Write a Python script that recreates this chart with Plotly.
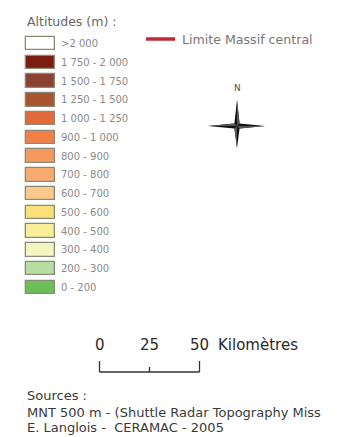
import plotly.graph_objects as go

title = "Altitudes (m) :"
classes = [">2 000", "1 750 - 2 000", "1 500 - 1 750", "1 250 - 1 500", "1 000 - 1 250",
           "900 - 1 000", "800 - 900", "700 - 800", "600 - 700", "500 - 600",
           "400 - 500", "300 - 400", "200 - 300", "0 - 200"]
colors = ["#ffffff", "#7a1e10", "#8c4232", "#a9552f", "#e2693a", "#f27e48", "#f59a5e",
          "#f8aa73", "#fbc98c", "#fbdf78", "#f8ef98", "#f4f6c2", "#b8dca2", "#6cbf58"]
line_label = "Limite Massif central"
scale_ticks = [0, 25, 50]
scale_unit = "Kilomètres"
sources = ["Sources :", "MNT 500 m - (Shuttle Radar Topography Miss", "E. Langlois -  CERAMAC - 2005"]

# page body has an 8 px margin: figure sized to fit the window, axes in window pixels
OFF = 8
W, H = 340 - OFF, 437 - OFF
FONT = "DejaVu Sans, sans-serif"

y0, step = 43.5, 18.77
ys = [y0 + i * step for i in range(len(classes))]

fig = go.Figure()
fig.add_trace(go.Bar(
    y=ys, x=[29] * len(classes), base=[26] * len(classes), orientation="h",
    width=13.5, marker=dict(color=colors, line=dict(color="#8a8a7a", width=1.3)),
    showlegend=False, hoverinfo="skip"))


def text(x, y, s, size, color, anchor="left"):
    return dict(x=x, y=y, text=s, xanchor=anchor, yanchor="middle", showarrow=False,
                font=dict(size=size, color=color, family=FONT))


ann = [text(25, 21, title, 12.5, "#666666")]
for y, lab in zip(ys, classes):
    ann.append(text(59, y, lab, 10, "#8a8a8a"))
ann.append(text(180, 39, line_label, 12.6, "#777777"))
ann.append(text(237, 88, "N", 9, "#555555", "center"))

# scale bar
sx0, kpx = 99.5, 2.0
sx = [sx0 + v * kpx for v in scale_ticks]
for v, x in zip(scale_ticks, sx):
    ann.append(text(x, 345, str(v), 15, "#2a2a2a", "center"))
ann.append(text(sx[-1] + 16, 345, scale_unit, 15, "#2a2a2a"))

src_y = [395, 412, 427]
for s, y in zip(sources, src_y):
    ann.append(text(25, y, s, 13, "#3a3a3a"))

shapes = []
# red line legend
shapes.append(dict(type="line", x0=146, x1=175, y0=39, y1=39,
                   line=dict(color="#c0283a", width=3.5)))
# scale bar
lc = dict(color="#333333", width=1.3)
shapes.append(dict(type="line", x0=sx[0], x1=sx[-1], y0=372, y1=372, line=lc))
shapes.append(dict(type="line", x0=sx[0], x1=sx[0], y0=361, y1=372, line=lc))
shapes.append(dict(type="line", x0=sx[-1], x1=sx[-1], y0=361, y1=372, line=lc))
shapes.append(dict(type="line", x0=sx[1], x1=sx[1], y0=367, y1=372, line=lc))

# north arrow (four-pointed star)
cx, cy = 237, 126
t = 2.6
star = (f"M {cx} {cy-26} L {cx+t} {cy-t} L {cx+28} {cy} L {cx+t} {cy+t} "
        f"L {cx} {cy+22} L {cx-t} {cy+t} L {cx-29} {cy} L {cx-t} {cy-t} Z")
shapes.append(dict(type="path", path=star, fillcolor="#111111", line=dict(width=0)))
half = (f"M {cx} {cy-26} L {cx+t} {cy-t} L {cx} {cy} Z M {cx+28} {cy} L {cx+t} {cy+t} L {cx} {cy} Z "
        f"M {cx} {cy+22} L {cx-t} {cy+t} L {cx} {cy} Z M {cx-29} {cy} L {cx-t} {cy-t} L {cx} {cy} Z")
shapes.append(dict(type="path", path=half, fillcolor="#555555", line=dict(width=0)))

fig.update_layout(
    width=W, height=H, margin=dict(l=0, r=0, t=0, b=0),
    paper_bgcolor="white", plot_bgcolor="white",
    xaxis=dict(range=[OFF, 340], visible=False, fixedrange=True),
    yaxis=dict(range=[437, OFF], visible=False, fixedrange=True),
    annotations=ann, shapes=shapes, bargap=0,
)
fig.write_html("out.html", config={"displayModeBar": False})
